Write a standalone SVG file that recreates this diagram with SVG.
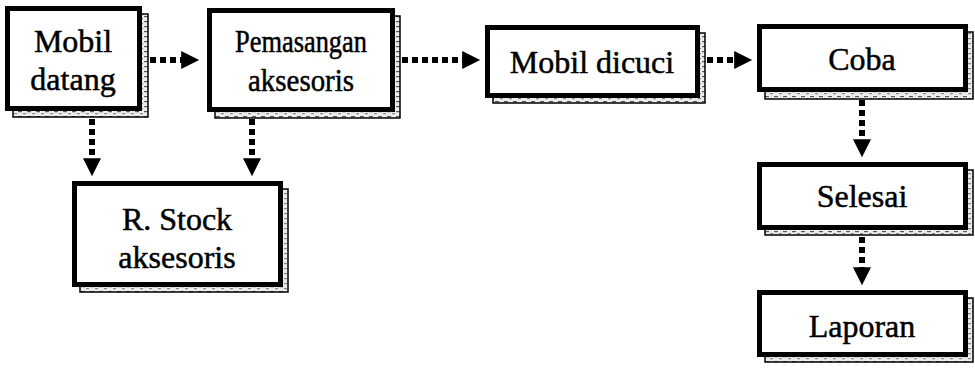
<svg xmlns="http://www.w3.org/2000/svg" width="975" height="369" viewBox="0 0 975 369">
  <style>
    .box { fill: #ffffff; stroke: #000000; stroke-width: 5; }
    .shadow { fill: url(#grain); stroke: #000000; stroke-width: 1.5; }
    .label { font-family: "Liberation Serif", "Times New Roman", serif; font-size: 32px; fill: #000000; stroke: #000000; stroke-width: 0.5; text-anchor: middle; }
    .flow { fill: none; stroke: #000000; stroke-width: 6; stroke-dasharray: 6 4; marker-end: url(#head); }
  </style>
  <defs>
    <!-- speckled fill used for the offset drop shadow of each box -->
    <pattern id="grain" width="9" height="5" patternUnits="userSpaceOnUse">
      <rect width="9" height="5" fill="#ececec"/>
      <rect x="0" y="1" width="4" height="1.2" fill="#5a5a5a"/>
      <rect x="5" y="3" width="3" height="1.2" fill="#8a8a8a"/>
    </pattern>
    <marker id="head" viewBox="0 0 10 10" refX="1" refY="5" markerWidth="3.2" markerHeight="3" orient="auto" markerUnits="strokeWidth">
      <path d="M0,0 L10,5 L0,10 Z" fill="#000000"/>
    </marker>
  </defs>

  <g id="connectors">
    <line class="flow" x1="150" y1="60" x2="183" y2="60"/>
    <line class="flow" x1="402" y1="60" x2="464" y2="60"/>
    <line class="flow" x1="707" y1="60" x2="736" y2="60"/>
    <line class="flow" x1="92" y1="119" x2="92" y2="160"/>
    <line class="flow" x1="252" y1="119" x2="252" y2="160"/>
    <line class="flow" x1="862" y1="100" x2="862" y2="141"/>
    <line class="flow" x1="862" y1="237" x2="862" y2="269"/>
  </g>

  <g id="mobil-datang">
    <rect class="shadow" x="13" y="14" width="135" height="103"/>
    <rect class="box" x="7.5" y="8.5" width="132" height="100"/>
    <text class="label" x="73" y="52">Mobil</text>
    <text class="label" x="73" y="90">datang</text>
  </g>

  <g id="pemasangan-aksesoris">
    <rect class="shadow" x="215" y="16" width="185" height="102"/>
    <rect class="box" x="209.5" y="10.5" width="183" height="99"/>
    <text class="label" x="301" y="52" textLength="132" lengthAdjust="spacingAndGlyphs">Pemasangan</text>
    <text class="label" x="301" y="91" textLength="106" lengthAdjust="spacingAndGlyphs">aksesoris</text>
  </g>

  <g id="mobil-dicuci">
    <rect class="shadow" x="493" y="33" width="212" height="70"/>
    <rect class="box" x="487.5" y="27.5" width="210" height="68"/>
    <text class="label" x="592" y="73">Mobil dicuci</text>
  </g>

  <g id="coba">
    <rect class="shadow" x="765" y="32" width="208" height="67"/>
    <rect class="box" x="759.5" y="26.5" width="206" height="63"/>
    <text class="label" x="862" y="70">Coba</text>
  </g>

  <g id="r-stock-aksesoris">
    <rect class="shadow" x="80" y="189" width="208" height="103"/>
    <rect class="box" x="74.5" y="183.5" width="206" height="101"/>
    <text class="label" x="177" y="230">R. Stock</text>
    <text class="label" x="177" y="268">aksesoris</text>
  </g>

  <g id="selesai">
    <rect class="shadow" x="765" y="170" width="208" height="65"/>
    <rect class="box" x="759.5" y="164.5" width="206" height="63"/>
    <text class="label" x="862" y="207">Selesai</text>
  </g>

  <g id="laporan">
    <rect class="shadow" x="765" y="298" width="208" height="64"/>
    <rect class="box" x="759.5" y="292.5" width="206" height="62"/>
    <text class="label" x="862" y="337">Laporan</text>
  </g>
</svg>
